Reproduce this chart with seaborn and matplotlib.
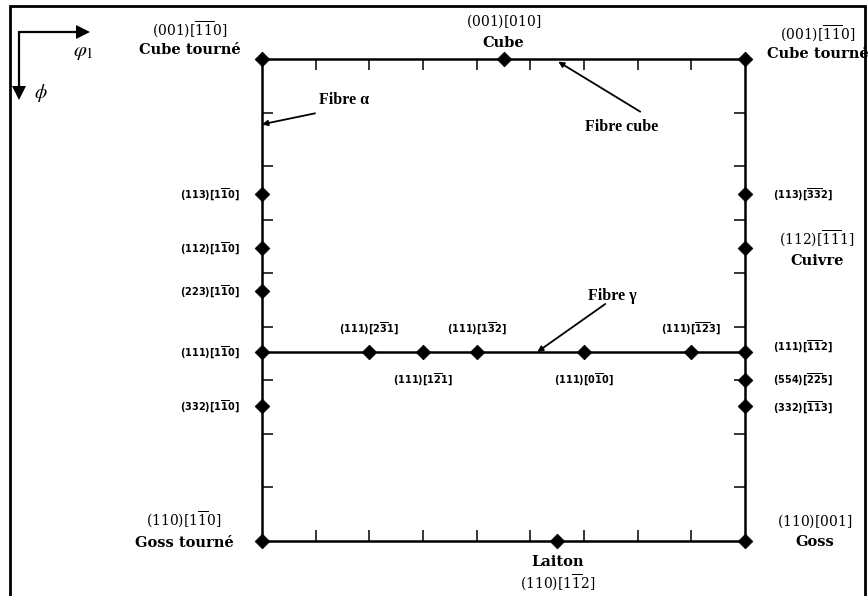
import numpy as np
import seaborn as sns
from matplotlib import pyplot as plt
from matplotlib.patches import Rectangle

# ODF section phi2 = 45 deg, phi1 along x, Phi downwards
cube_phi1 = [0, 45, 90]
cube_Phi = [0, 0, 0]

left_Phi = [25.2, 35.3, 43.3, 54.7, 64.8]
left_lab = [r"$\mathbf{(113)[1\overline{1}0]}$", r"$\mathbf{(112)[1\overline{1}0]}$",
            r"$\mathbf{(223)[1\overline{1}0]}$", r"$\mathbf{(111)[1\overline{1}0]}$",
            r"$\mathbf{(332)[1\overline{1}0]}$"]

right_Phi = [25.2, 35.3, 54.7, 60.0, 64.8]
right_lab = [r"$\mathbf{(113)[\overline{33}2]}$", None, r"$\mathbf{(111)[\overline{11}2]}$",
             r"$\mathbf{(554)[\overline{22}5]}$", r"$\mathbf{(332)[\overline{11}3]}$"]
right_dy = [0, 0, 6, 1, -1]

gamma_phi1 = [0, 20, 30, 40, 60, 80, 90]
gamma_Phi = [54.7] * 7
gamma_lab = [r"$\mathbf{(111)[2\overline{3}1]}$", r"$\mathbf{(111)[1\overline{2}1]}$",
             r"$\mathbf{(111)[1\overline{3}2]}$", r"$\mathbf{(111)[0\overline{1}0]}$",
             r"$\mathbf{(111)[\overline{12}3]}$"]
gamma_up = [True, False, True, False, True]

bottom_phi1 = [0, 55, 90]
bottom_Phi = [90, 90, 90]

ticks = [10, 20, 30, 40, 50, 60, 70, 80]

sns.set_style("white")
plt.rcParams["text.color"] = "black"
fig = plt.figure(figsize=(8.68, 5.96), dpi=100)
ax = fig.add_axes([262 / 868, 1 - 541 / 596, 483 / 868, 482 / 596])
ax.set_xlim(0, 90)
ax.set_ylim(90, 0)
for s in ax.spines.values():
    s.set_visible(True)
    s.set_linewidth(1.8)
    s.set_color("black")
ax.set_xticks(ticks)
ax.set_yticks(ticks)
ax.tick_params(direction="in", length=8, width=1.1, top=True, bottom=True, left=True, right=True,
               labelbottom=False, labelleft=False, color="black")

sns.lineplot(x=gamma_phi1, y=gamma_Phi, ax=ax, color="black", lw=1.8)

allx = cube_phi1 + [0] * len(left_Phi) + [90] * len(right_Phi) + gamma_phi1[1:-1] + bottom_phi1
ally = cube_Phi + left_Phi + right_Phi + gamma_Phi[1:-1] + bottom_Phi
sns.scatterplot(x=allx, y=ally, ax=ax, marker="D", s=55, color="black", edgecolor="black",
                clip_on=False, zorder=5)

big = dict(fontsize=10, math_fontfamily="dejavuserif", ha="center", va="center", textcoords="offset pixels")
bold = dict(fontsize=10.5, family="DejaVu Serif", fontweight="bold", ha="center", va="center",
            textcoords="offset pixels")
small = dict(fontsize=7, math_fontfamily="dejavusans", va="center", textcoords="offset pixels")


def two_lines(idx, name, xy, dx, dy1, dy2):
    ax.annotate(idx, xy, xytext=(dx, dy1), **big)
    ax.annotate(name, xy, xytext=(dx, dy2), **bold)


two_lines(r"$(001)[\overline{11}0]$", "Cube tourné", (0, 0), -72, 29, 9)
two_lines(r"$(001)[010]$", "Cube", (45, 0), 0, 38, 16)
two_lines(r"$(001)[\overline{11}0]$", "Cube tourné", (90, 0), 73, 25, 5)
two_lines(r"$(112)[\overline{11}1]$", "Cuivre", (90, 35.3), 72, 9, -13)
two_lines(r"$(110)[1\overline{1}0]$", "Goss tourné", (0, 90), -78, 21, -2)
two_lines(r"$(110)[001]$", "Goss", (90, 90), 70, 20, -1)
ax.annotate("Laiton", (55, 90), xytext=(0, -21), **bold)
ax.annotate(r"$(110)[1\overline{1}2]$", (55, 90), xytext=(0, -42), **big)

for p, lab in zip(left_Phi, left_lab):
    ax.annotate(lab, (0, p), xytext=(-22, 0), ha="right", **small)
for p, lab, dy in zip(right_Phi, right_lab, right_dy):
    if lab is None:
        continue
    ax.annotate(lab, (90, p), xytext=(28, dy), ha="left", **small)

for x, lab, up in zip(gamma_phi1[1:-1], gamma_lab, gamma_up):
    ax.annotate(lab, (x, 54.7), xytext=(0, 24 if up else -27), ha="center", **small)

# fibre arrows
arr = dict(arrowstyle="-|>", color="black", lw=1.3, mutation_scale=8, shrinkA=0, shrinkB=0)
fib = dict(fontsize=11.5, family="Liberation Serif", fontweight="bold", va="center", ha="center",
           textcoords="offset pixels")
ax.annotate("", (0, 12.2), xytext=(53, 11), textcoords="offset pixels", arrowprops=arr)
ax.annotate("Fibre α", (0, 12.2), xytext=(82, 24), **fib)
ax.annotate("", (55.2, 0.5), xytext=(82, -50), textcoords="offset pixels", arrowprops=arr)
ax.annotate("Fibre cube", (55.2, 0.5), xytext=(63, -65), **fib)
ax.annotate("", (51.3, 54.7), xytext=(68, 48), textcoords="offset pixels", arrowprops=arr)
ax.annotate("Fibre γ", (51.3, 54.7), xytext=(75, 56), **fib)

# frame and orientation key in the corner
fig.patches.append(Rectangle((10 / 868, -0.01), 855 / 868, 1 - 6 / 596 + 0.01, transform=fig.transFigure,
                             fill=False, ec="black", lw=2))
fig.add_artist(plt.Line2D([19 / 868, 19 / 868], [1 - 32 / 596, 1 - 88 / 596], color="black", lw=1.6))
fig.add_artist(plt.Line2D([19 / 868, 78 / 868], [1 - 32 / 596, 1 - 32 / 596], color="black", lw=1.6))
fig.add_artist(plt.Line2D([83 / 868], [1 - 32 / 596], marker=">", ms=10, color="black", mew=0))
fig.add_artist(plt.Line2D([19 / 868], [1 - 93 / 596], marker="v", ms=10, color="black", mew=0))
fig.text(73 / 868, 1 - 52 / 596, r"$\varphi_1$", fontsize=15, math_fontfamily="stix", va="center")
fig.text(34 / 868, 1 - 93 / 596, r"$\phi$", fontsize=14, math_fontfamily="stix", va="center")

fig.savefig("out.png", dpi=100, facecolor="white")
